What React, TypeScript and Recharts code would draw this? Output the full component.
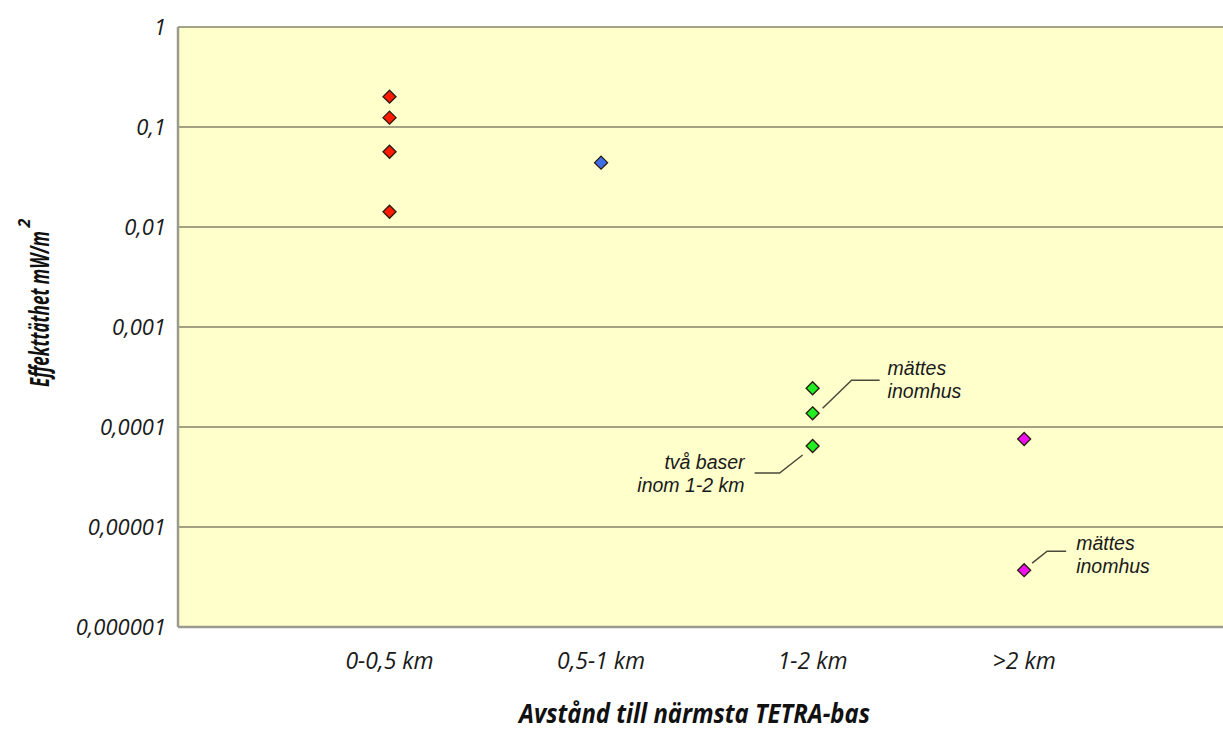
import React from 'react';
import { ScatterChart, Scatter, XAxis, YAxis, CartesianGrid, ReferenceDot, Label } from 'recharts';

const categories = ['0-0,5 km', '0,5-1 km', '1-2 km', '>2 km'];
const redValues = [0.201, 0.124, 0.0566, 0.0142];
const blueValues = [0.044];
const greenValues = [0.000244, 0.000137, 0.0000646];
const magentaValues = [0.0000759, 0.0000037];
const yTicks = [0.000001, 0.00001, 0.0001, 0.001, 0.01, 0.1, 1];
const yTickLabels = ['0,000001', '0,00001', '0,0001', '0,001', '0,01', '0,1', '1'];

const toPoints = (catIndex: number, values: number[]) => values.map((v) => ({ x: catIndex + 1, y: v }));

const Diamond = (props: any) => {
  const { cx, cy, fill } = props;
  if (cx == null || cy == null) return null;
  const r = 6.5;
  return (
    <polygon
      points={`${cx},${cy - r} ${cx + r},${cy} ${cx},${cy + r} ${cx - r},${cy}`}
      fill={fill}
      stroke="#2a1a10"
      strokeWidth={1.3}
    />
  );
};

const annFont = { fontFamily: '"Liberation Sans", Arial, sans-serif', fontStyle: 'italic', fontSize: 19.5, fill: '#1a1a1a' } as const;

const AnnotRight = (props: any) => {
  const { cx, cy, dx0, dy0, dx1, dy1, dx2, tx, ty1, ty2, l1, l2 } = props;
  if (cx == null || cy == null) return null;
  return (
    <g>
      <polyline
        points={`${cx + dx0},${cy + dy0} ${cx + dx1},${cy + dy1} ${cx + dx2},${cy + dy1}`}
        fill="none"
        stroke="#4a4a3a"
        strokeWidth={1.5}
      />
      <text x={cx + tx} y={cy + ty1} {...annFont}>{l1}</text>
      <text x={cx + tx} y={cy + ty2} {...annFont}>{l2}</text>
    </g>
  );
};

const AnnotLeft = (props: any) => {
  const { cx, cy } = props;
  if (cx == null || cy == null) return null;
  return (
    <g>
      <polyline
        points={`${cx - 10},${cy + 9} ${cx - 33},${cy + 27} ${cx - 58},${cy + 27}`}
        fill="none"
        stroke="#4a4a3a"
        strokeWidth={1.5}
      />
      <text x={cx - 68} y={cy + 23.5} textAnchor="end" {...annFont}>två baser</text>
      <text x={cx - 68} y={cy + 46.5} textAnchor="end" {...annFont}>inom 1-2 km</text>
    </g>
  );
};

const titleFont = { fontFamily: '"Open Sans", sans-serif', fontStyle: 'italic', fontWeight: 700, fill: '#111' } as const;

const YTitle = (props: any) => {
  const vb = props.viewBox || { x: 0, y: 27, width: 178, height: 600 };
  const bx = 49;
  const cy = vb.y + vb.height / 2 - 18;
  const len = 156;
  const supY = cy - len / 2 - 8;
  const supX = 30;
  return (
    <g>
      <text
        x={bx}
        y={cy}
        transform={`rotate(-90, ${bx}, ${cy})`}
        textAnchor="middle"
        textLength={len}
        lengthAdjust="spacingAndGlyphs"
        style={{ ...titleFont, fontSize: 26 }}
      >
        Effekttäthet mW/m
      </text>
      <text
        x={supX}
        y={supY}
        transform={`rotate(-90, ${supX}, ${supY})`}
        textAnchor="middle"
        style={{ ...titleFont, fontSize: 16 }}
      >
        2
      </text>
    </g>
  );
};

const XTitle = (props: any) => {
  const vb = props.viewBox || { x: 178, y: 627, width: 1045, height: 0 };
  const cx = vb.x + vb.width / 2 - 6;
  return (
    <text
      x={cx}
      y={723}
      textAnchor="middle"
      textLength={351}
      lengthAdjust="spacingAndGlyphs"
      style={{ ...titleFont, fontSize: 26 }}
    >
      Avstånd till närmsta TETRA-bas
    </text>
  );
};

export default function App() {
  return (
    <div style={{ position: 'absolute', left: 0, top: 0, width: 1223, height: 744, background: '#ffffff', overflow: 'hidden' }}>
      <ScatterChart width={1223} height={744} margin={{ top: 27, right: 0, bottom: 0, left: 0 }}>
        <CartesianGrid vertical={false} fill="#FFFFCC" stroke="#85856b" strokeWidth={1.6} />
        <XAxis
          type="number"
          dataKey="x"
          domain={[0, 4.94]}
          ticks={[1, 2, 3, 4]}
          tickFormatter={(v: number) => categories[v - 1]}
          height={117}
          tickLine={false}
          tickSize={0}
          tickMargin={26}
          axisLine={{ stroke: '#9a9a90', strokeWidth: 2.5 }}
          tick={{ fontFamily: '"Open Sans", sans-serif', fontStyle: 'italic', fontSize: 23, fill: '#1a1a1a' }}
          allowDataOverflow
        >
          <Label content={<XTitle />} />
        </XAxis>
        <YAxis
          type="number"
          dataKey="y"
          scale="log"
          domain={[0.000001, 1]}
          ticks={yTicks}
          tickFormatter={(v: number) => yTickLabels[yTicks.findIndex((t) => Math.abs(Math.log10(t) - Math.log10(v)) < 0.01)]}
          width={178}
          tickLine={false}
          tickSize={0}
          tickMargin={12}
          axisLine={{ stroke: '#9a9a90', strokeWidth: 2.5 }}
          tick={{ fontFamily: '"Open Sans", sans-serif', fontStyle: 'italic', fontSize: 22, fill: '#1a1a1a' }}
          allowDataOverflow
          interval={0}
        >
          <Label content={<YTitle />} />
        </YAxis>
        <Scatter data={toPoints(0, redValues)} fill="#ff1a00" shape={<Diamond />} isAnimationActive={false} />
        <Scatter data={toPoints(1, blueValues)} fill="#3f6fe8" shape={<Diamond />} isAnimationActive={false} />
        <Scatter data={toPoints(2, greenValues)} fill="#22ee22" shape={<Diamond />} isAnimationActive={false} />
        <Scatter data={toPoints(3, magentaValues)} fill="#ee10ee" shape={<Diamond />} isAnimationActive={false} />
        <ReferenceDot
          x={3}
          y={greenValues[1]}
          r={0}
          shape={(p: any) => (
            <AnnotRight {...p} dx0={10} dy0={-5} dx1={39} dy1={-33} dx2={67} tx={75} ty1={-38.5} ty2={-15.5} l1="mättes" l2="inomhus" />
          )}
        />
        <ReferenceDot x={3} y={greenValues[2]} r={0} shape={(p: any) => <AnnotLeft {...p} />} />
        <ReferenceDot
          x={4}
          y={magentaValues[1]}
          r={0}
          shape={(p: any) => (
            <AnnotRight {...p} dx0={8} dy0={-7} dx1={23} dy1={-19} dx2={42} tx={52} ty1={-20.5} ty2={2.5} l1="mättes" l2="inomhus" />
          )}
        />
      </ScatterChart>
    </div>
  );
}
